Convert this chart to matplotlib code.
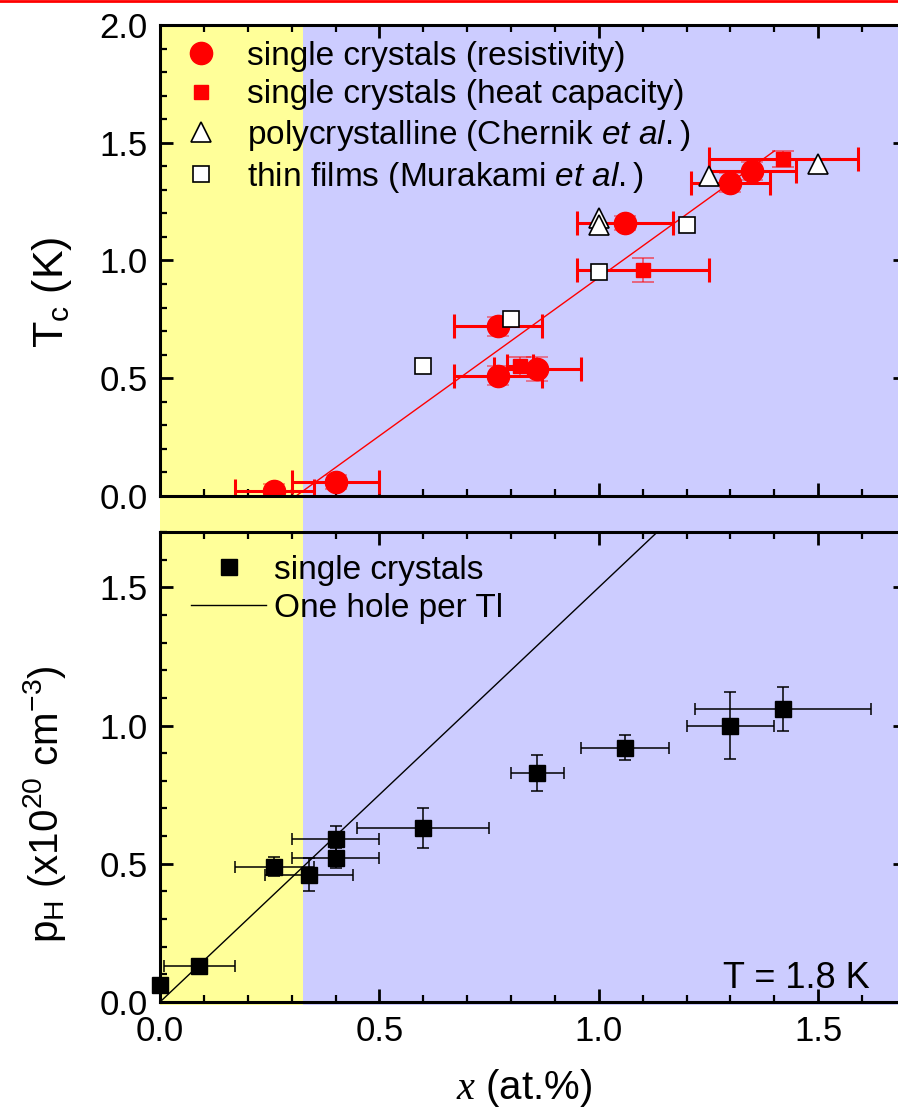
import numpy as np
import matplotlib
matplotlib.use('Agg')
import matplotlib.pyplot as plt
from matplotlib.lines import Line2D
from matplotlib.ticker import MultipleLocator, FormatStrFormatter

plt.rcParams['font.family'] = ['Liberation Sans', 'DejaVu Sans']
plt.rcParams['mathtext.fontset'] = 'custom'
plt.rcParams['mathtext.rm'] = 'Liberation Sans'
plt.rcParams['mathtext.it'] = 'Liberation Sans:italic'
plt.rcParams['mathtext.bf'] = 'Liberation Sans:bold'
plt.rcParams['mathtext.cal'] = 'Liberation Serif:italic'

# --- top panel: Tc vs x ---
# single crystals, resistivity
res_x = [0.26, 0.40, 0.77, 0.77, 0.86, 1.06, 1.30, 1.35]
res_tc = [0.02, 0.06, 0.72, 0.51, 0.54, 1.16, 1.33, 1.38]
res_xerr = [0.09, 0.10, 0.10, 0.10, 0.10, 0.11, 0.09, 0.10]
res_yerr = [0.03, 0.03, 0.04, 0.04, 0.05, 0.03, 0.04, 0.04]
# single crystals, heat capacity
hc_x = [0.82, 1.10, 1.42]
hc_tc = [0.55, 0.96, 1.43]
hc_xerr = [0.03, 0.15, 0.17]
hc_yerr = [0.04, 0.05, 0.035]
# polycrystalline (Chernik et al.)
poly_x = [1.00, 1.00, 1.25, 1.50]
poly_tc = [1.18, 1.15, 1.36, 1.41]
# thin films (Murakami et al.)
film_x = [0.60, 0.80, 1.00, 1.20]
film_tc = [0.55, 0.75, 0.95, 1.15]
# linear fit
fit_x = [0.31, 1.40]
fit_tc = [0.0, 1.465]

# --- bottom panel: Hall carrier density vs x ---
ph_x = [0.00, 0.09, 0.26, 0.34, 0.40, 0.40, 0.60, 0.86, 1.06, 1.30, 1.42]
ph_p = [0.06, 0.13, 0.49, 0.46, 0.52, 0.59, 0.63, 0.83, 0.92, 1.00, 1.06]
ph_xerr = [0.0, 0.08, 0.09, 0.10, 0.10, 0.10, 0.15, 0.06, 0.10, 0.10, 0.20]
ph_yerr = [0.0, 0.02, 0.035, 0.06, 0.036, 0.045, 0.072, 0.065, 0.045, 0.12, 0.08]
hole_x = [0.0, 1.14]
hole_p = [0.0, 1.71]

x_crit = 0.325  # edge of yellow region

yellow = '#FFFF99'
blue = '#CCCCFF'

fig = plt.figure(figsize=(8.98, 11.12), dpi=100)
left, width = 0.17817, 0.83073

# shaded background spanning both panels
bg = fig.add_axes([left, 0.09622, width, 0.8813], zorder=0)
bg.set_xlim(0, 1.7)
bg.set_ylim(0, 1)
bg.axvspan(0, x_crit, color=yellow, lw=0)
bg.axvspan(x_crit, 1.7, color=blue, lw=0)
bg.axis('off')

ax1 = fig.add_axes([left, 0.55396, width, 0.42356], zorder=2)
ax2 = fig.add_axes([left, 0.09892, width, 0.42266], zorder=2)

# top panel
ax1.errorbar(res_x, res_tc, yerr=res_yerr, fmt='none', ecolor='red', alpha=0.45,
             elinewidth=1.3, capsize=8, capthick=1.3)
ax1.errorbar(hc_x, hc_tc, yerr=hc_yerr, fmt='none', ecolor='red', alpha=0.55,
             elinewidth=1.3, capsize=8, capthick=1.3)
ax1.errorbar(res_x, res_tc, xerr=res_xerr, fmt='none', ecolor='red',
             elinewidth=2.2, capsize=8.5, capthick=2.2)
ax1.errorbar(hc_x, hc_tc, xerr=hc_xerr, fmt='none', ecolor='red',
             elinewidth=2.2, capsize=8.5, capthick=2.2)
ax1.plot(fit_x, fit_tc, color='red', lw=1.0)
ax1.plot(res_x, res_tc, 'o', color='red', ms=16, mec='red',
         label='single crystals (resistivity)')
ax1.plot(hc_x, hc_tc, 's', color='red', ms=10, mec='red',
         label='single crystals (heat capacity)')
ax1.plot(poly_x, poly_tc, '^', mfc='white', mec='black', mew=1.2, ms=15,
         label=r'polycrystalline (Chernik $\mathit{et}$ $\mathit{al.}$)')
ax1.plot(film_x, film_tc, 's', mfc='white', mec='black', mew=1.2, ms=11,
         label=r'thin films (Murakami $\mathit{et}$ $\mathit{al.}$)')

ax1.set_ylim(0, 2.0)
ax1.yaxis.set_major_locator(MultipleLocator(0.5))
ax1.yaxis.set_minor_locator(MultipleLocator(0.1))
ax1.tick_params(labelbottom=False)

ax1.legend(loc='upper left', bbox_to_anchor=(0.032, 0.966), borderaxespad=0,
           borderpad=0, frameon=False, fontsize=24, handlelength=1.0,
           handletextpad=0.88, labelspacing=0.22, numpoints=1)

# bottom panel
ax2.errorbar(ph_x, ph_p, xerr=ph_xerr, yerr=ph_yerr, fmt='none', ecolor='black',
             elinewidth=1.1, capsize=4.5, capthick=1.1)
ax2.plot(ph_x, ph_p, 's', color='black', ms=11, clip_on=False,
         label='single crystals')
ax2.plot(hole_x, hole_p, color='black', lw=1.0, label='One hole per Tl')
ax2.set_ylim(0, 1.7)
ax2.yaxis.set_major_locator(MultipleLocator(0.5))
ax2.yaxis.set_minor_locator(MultipleLocator(0.1))

ax2.legend(loc='upper left', bbox_to_anchor=(0.0416, 0.952), borderaxespad=0,
           borderpad=0, frameon=False, fontsize=24, handlelength=2.25,
           handletextpad=0.25, labelspacing=0.22, numpoints=1)

ax2.text(0.952, 0.030, 'T = 1.8 K', transform=ax2.transAxes, ha='right',
         va='baseline', fontsize=26)

for ax in (ax1, ax2):
    ax.set_facecolor('none')
    ax.set_xlim(0, 1.7)
    ax.xaxis.set_major_locator(MultipleLocator(0.5))
    ax.xaxis.set_minor_locator(MultipleLocator(0.1))
    ax.xaxis.set_major_formatter(FormatStrFormatter('%.1f'))
    ax.yaxis.set_major_formatter(FormatStrFormatter('%.1f'))
    ax.tick_params(which='both', direction='in', top=True, right=True, labelsize=25)
    ax.tick_params(which='major', length=9.5, width=2.0, pad=9)
    ax.tick_params(which='minor', length=5, width=1.6)
    for sp in ax.spines.values():
        sp.set_linewidth(2.2)

fig.text(0.058, 0.7374, r'T$_\mathrm{c}$ (K)', rotation=90, ha='center', va='center',
         fontsize=31)
fig.text(0.049, 0.277, r'p$_\mathrm{H}$ (x10$^{20}$ cm$^{-3}$)', rotation=90,
         ha='center', va='center', fontsize=29)
fig.text(0.5835, 0.0216, r'$\mathcal{x}$ (at.%)', ha='center', va='center', fontsize=29)

# red rule along the top edge
fig.add_artist(Line2D([0, 1], [0.9995, 0.9995], color='red', lw=2.0,
                      transform=fig.transFigure))

fig.savefig('out.png', dpi=100)
